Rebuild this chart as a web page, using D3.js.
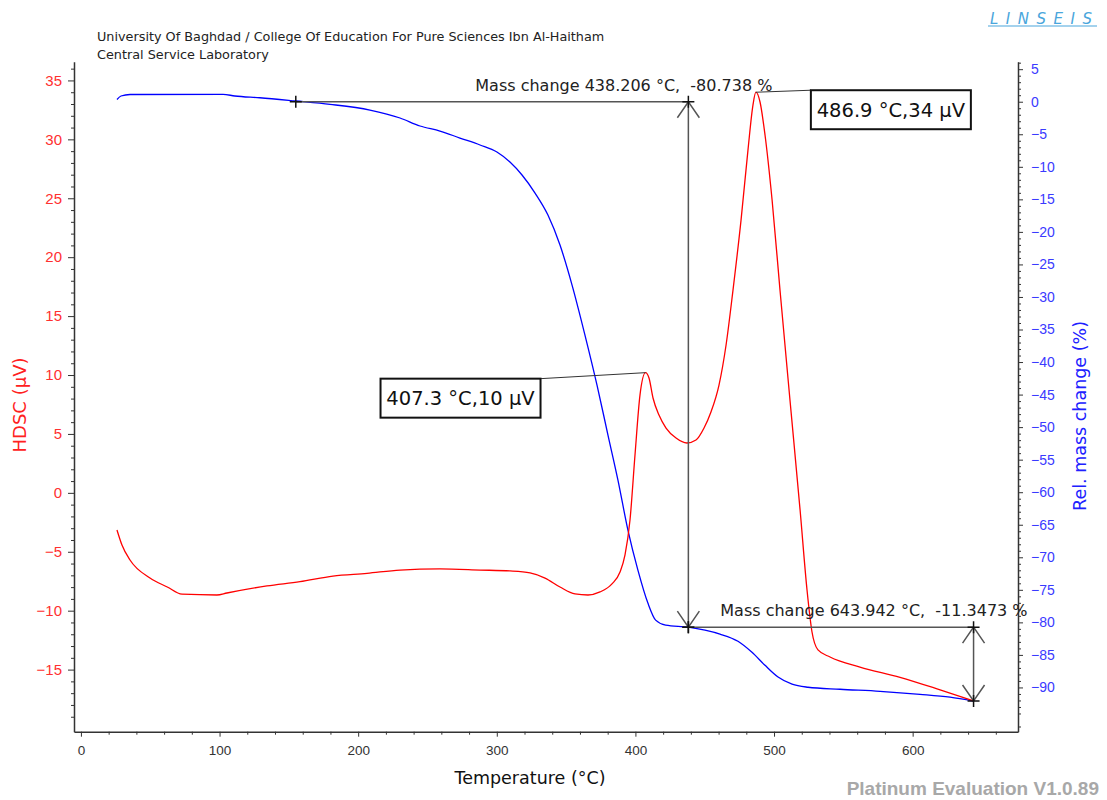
<!DOCTYPE html>
<html lang="en">
<head>
<meta charset="UTF-8">
<title>TG / HDSC</title>
<script src="https://d3js.org/d3.v7.min.js"></script>
<style>
  body { margin: 0; background: #fff; }
  svg { display: block; font-family: "DejaVu Sans", Verdana, sans-serif; }
  .axis path, .axis line { stroke: #333; }
  .axis path { stroke-width: 1.5; }
</style>
</head>
<body>
<div id="chart"></div>
<script>
// HDSC signal (uV) vs temperature (C)
const hdscTemp = [26.0, 29.6, 35.4, 49.8, 62.3, 72.9, 98.1, 105.3, 134.2, 158.0, 181.8, 206.4, 230.2, 259.0, 287.9,
  309.5, 324.0, 334.8, 345.6, 356.4, 365.8, 374.5, 383.1, 388.9, 392.5, 396.1, 399.7, 403.3, 407.3, 409.8, 412.7,
  417.0, 422.1, 429.3, 437.2, 443.7, 449.5, 454.5, 460.3, 465.4, 470.4, 476.2, 481.2, 484.8, 486.9, 489.9, 493.5,
  498.6, 504.3, 511.5, 518.8, 523.8, 527.4, 531.7, 540.4, 562.0, 590.9, 619.8, 643.9];
const hdscValue = [-3.15, -4.43, -5.70, -7.23, -7.99, -8.60, -8.67, -8.50, -7.90, -7.54, -7.06, -6.83, -6.55, -6.46, -6.55,
  -6.63, -6.80, -7.23, -7.99, -8.58, -8.67, -8.41, -7.73, -6.72, -5.27, -2.30, 3.21, 8.30, 10.2, 9.75, 8.05,
  6.61, 5.50, 4.65, 4.23, 4.48, 5.50, 6.86, 9.15, 12.55, 17.21, 23.15, 29.09, 32.91, 34.0, 33.17, 30.37,
  24.85, 17.21, 7.88, -1.46, -8.24, -11.81, -13.33, -13.93, -14.78, -15.65, -16.72, -17.66];

// relative mass change (%) vs temperature (C)
const massTemp = [26.0, 28.9, 35.4, 102.5, 111.0, 129.0, 155.0, 179.7, 208.5, 230.2, 244.6, 259.0, 273.4, 287.9, 300.1,
  309.5, 318.2, 327.6, 336.9, 345.6, 354.3, 363.6, 372.3, 380.2, 387.4, 394.6, 401.8, 409.0, 414.6, 421.8, 438.2,
  450.2, 461.0, 474.0, 484.1, 493.5, 502.9, 513.0, 524.5, 547.6, 576.5, 605.3, 627.0, 643.9];
const massValue = [0.34, 0.88, 1.11, 1.14, 0.88, 0.61, 0.11, -0.40, -1.28, -2.50, -3.73, -4.50, -5.58, -6.65, -7.73,
  -9.27, -11.26, -14.03, -17.41, -22.02, -28.17, -35.85, -43.54, -51.22, -58.14, -65.82, -71.97, -77.04, -79.65, -80.42, -80.74,
  -81.20, -81.80, -82.90, -84.60, -86.60, -88.40, -89.50, -89.97, -90.28, -90.59, -91.05, -91.50, -92.09];

// evaluation results
const massSteps = [
  { t0: 155.0, t1: 438.206, m0: 0, change: -80.738, label: "Mass change 438.206 °C,  -80.738 %" },
  { t0: 438.206, t1: 643.942, m0: -80.738, change: -11.3473, label: "Mass change 643.942 °C,  -11.3473 %" }
];
const peaks = [
  { t: 407.3, v: 10.2, label: "407.3 °C,10 µV" },
  { t: 486.9, v: 34.0, label: "486.9 °C,34 µV" }
];

const xTicks = d3.range(0, 601, 100);
const leftTicks = d3.range(-15, 36, 5);
const rightTicks = d3.range(-90, 6, 5);

const width = 1107, height = 800;
const svg = d3.select("#chart").append("svg").attr("width", width).attr("height", height);

const x = d3.scaleLinear().domain([-5, 676]).range([74, 1018]);
const yL = d3.scaleLinear().domain([-20.27, 36.59]).range([731.7, 61.7]);
const yR = d3.scaleLinear().domain([-96.8, 6.15]).range([731.7, 61.7]);

// axes
const gx = svg.append("g").attr("class", "axis").attr("transform", `translate(0,${yL.range()[0]})`);
gx.call(d3.axisBottom(x).tickValues(xTicks).tickSize(5).tickSizeOuter(0).tickPadding(9));
gx.append("g").call(d3.axisBottom(x).tickValues(d3.range(20, 661, 20).filter(d => d % 100)).tickSize(3).tickFormat(""))
  .select(".domain").remove();
gx.selectAll("text").attr("fill", "#333").style("font-size", "13.5px");

const gl = svg.append("g").attr("class", "axis").attr("transform", `translate(${x.range()[0]},0)`);
gl.call(d3.axisLeft(yL).tickValues(leftTicks).tickSize(6).tickSizeOuter(0).tickPadding(6));
gl.append("g").call(d3.axisLeft(yL).tickValues(d3.range(-20, 37, 1).filter(d => d % 5)).tickSize(3).tickFormat(""))
  .select(".domain").remove();
gl.selectAll("text").attr("fill", "#ff3030").style("font-size", "15px");

const gr = svg.append("g").attr("class", "axis").attr("transform", `translate(${x.range()[1]},0)`);
gr.call(d3.axisRight(yR).tickValues(rightTicks).tickSize(5).tickSizeOuter(0).tickPadding(8));
gr.append("g").call(d3.axisRight(yR).tickValues(d3.range(-96, 7, 1).filter(d => d % 5)).tickSize(3).tickFormat(""))
  .select(".domain").remove();
gr.selectAll("text").attr("fill", "#3a3aff").style("font-size", "14px");

// axis titles
svg.append("text").attr("x", 530).attr("y", 784).attr("text-anchor", "middle")
  .style("font-size", "17.5px").attr("fill", "#111").text("Temperature (°C)");
svg.append("text").attr("transform", "translate(26,405) rotate(-90)").attr("text-anchor", "middle")
  .style("font-size", "18px").attr("fill", "#ff2020").text("HDSC (µV)");
svg.append("text").attr("transform", "translate(1086,416) rotate(-90)").attr("text-anchor", "middle")
  .style("font-size", "17.5px").attr("fill", "#2020ff").text("Rel. mass change (%)");

// header
svg.append("text").attr("x", 97).attr("y", 41).style("font-size", "12.8px").attr("fill", "#222")
  .text("University Of Baghdad / College Of Education For Pure Sciences Ibn Al-Haitham");
svg.append("text").attr("x", 97).attr("y", 59).style("font-size", "12.8px").attr("fill", "#222")
  .text("Central Service Laboratory");

// logo
svg.append("text").attr("x", 990).attr("y", 24).style("font-size", "15px").style("font-style", "italic")
  .style("letter-spacing", "7.5px").attr("fill", "#4aa6dc").text("LINSEIS");
svg.append("line").attr("x1", 988).attr("x2", 1097).attr("y1", 26).attr("y2", 26)
  .attr("stroke", "#4aa6dc").attr("stroke-width", 1.2);

svg.append("text").attr("x", 1099).attr("y", 795).attr("text-anchor", "end")
  .style("font-family", "'Liberation Sans', Arial, sans-serif").style("font-size", "19px").style("font-weight", "bold")
  .attr("fill", "#a8a8a8").text("Platinum Evaluation V1.0.89");

// curves
const line = d3.line().curve(d3.curveMonotoneX);
svg.append("path").attr("fill", "none").attr("stroke", "#0000ff").attr("stroke-width", 1.3)
  .attr("d", line(massTemp.map((t, i) => [x(t), yR(massValue[i])])));
svg.append("path").attr("fill", "none").attr("stroke", "#ff0000").attr("stroke-width", 1.3)
  .attr("d", line(hdscTemp.map((t, i) => [x(t), yL(hdscValue[i])])));

// mass change annotations
const ann = svg.append("g").attr("stroke", "#555").attr("stroke-width", 1.5).attr("fill", "none");
function cross(px, py, s) {
  ann.append("path").attr("stroke", "#111").attr("d", `M${px - s},${py}H${px + s}M${px},${py - s}V${py + s}`);
}
function arrowHead(px, py, dir) {
  ann.append("path").attr("d", `M${px - 11},${py + dir * 16}L${px},${py}L${px + 11},${py + dir * 16}`);
}
massSteps.forEach((s, i) => {
  const xa = x(s.t0), xb = x(s.t1), ya = yR(s.m0), yb = yR(s.m0 + s.change);
  ann.append("line").attr("x1", xa).attr("x2", xb).attr("y1", ya).attr("y2", ya);
  ann.append("line").attr("x1", xb).attr("x2", xb).attr("y1", ya).attr("y2", yb);
  arrowHead(xb, ya, 1);
  arrowHead(xb, yb, -1);
  cross(xa, ya, 6);
  cross(xb, ya, 6);
  cross(xb, yb, 6);
  svg.append("text").attr("x", i === 0 ? xb + 84 : xb + 54).attr("y", ya - 11).attr("text-anchor", "end")
    .style("white-space", "pre").style("font-size", "16px").attr("fill", "#222").text(s.label);
});

// peak labels
peaks.forEach((p, i) => {
  const px = x(p.t), py = yL(p.v);
  const bx = i === 0 ? px - 265 : px + 55, by = i === 0 ? py + 6 : py - 2;
  const bw = 160, bh = 39;
  svg.append("line").attr("x1", px).attr("y1", py).attr("x2", i === 0 ? bx + bw : bx).attr("y2", by)
    .attr("stroke", "#333").attr("stroke-width", 1);
  svg.append("rect").attr("x", bx).attr("y", by).attr("width", bw).attr("height", bh)
    .attr("fill", "#fff").attr("stroke", "#111").attr("stroke-width", 2);
  svg.append("text").attr("x", bx + bw / 2).attr("y", by + bh / 2 + 7).attr("text-anchor", "middle")
    .style("font-size", "19.5px").attr("fill", "#111").text(p.label);
});
</script>
</body>
</html>
